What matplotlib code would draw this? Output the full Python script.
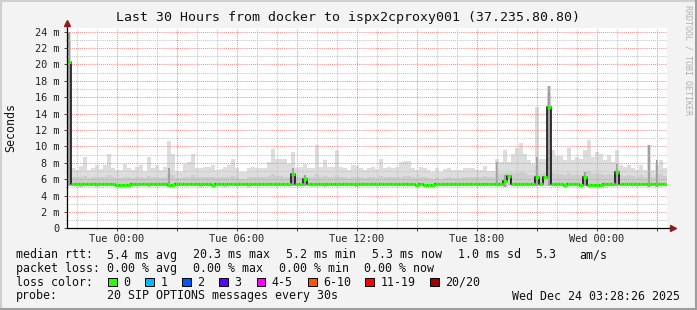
import matplotlib
matplotlib.use("Agg")
import matplotlib.pyplot as plt
import numpy as np
from matplotlib.lines import Line2D
from matplotlib.patches import Rectangle

plt.rcParams["font.family"] = ["DejaVu Sans Mono", "DejaVu Sans"]

W, H = 697, 310
BIN_H = 0.2  # hours per smoke column (12 min)

# --- data (ms), one value per 12-minute column starting Mon 21:30 ---
smoke_hi = [
    24.0,
    7.3, 7.1, 7.6, 8.7, 7.1, 7.3, 7.7, 7.2, 7.7, 9.1,
    7.3, 7.1, 7.1, 7.8, 7.3, 7.1, 7.5, 7.7, 7.0, 8.7,
    7.3, 7.7, 7.1, 7.5, 10.6, 9.1, 7.0, 6.9, 7.8, 8.1,
    9.1, 7.3, 7.3, 7.5, 7.5, 7.7, 7.1, 7.2, 7.5, 7.7,
    8.5, 7.3, 6.9, 6.9, 7.3, 7.5, 7.3, 7.4, 7.3, 8.1,
    9.7, 8.5, 8.5, 8.4, 7.8, 9.3, 7.3, 7.5, 7.9, 7.3,
    7.3, 10.2, 7.5, 8.3, 7.5, 7.5, 9.5, 7.5, 7.3, 7.1,
    7.7, 7.6, 7.3, 7.1, 7.4, 7.5, 7.2, 8.5, 7.3, 7.5,
    7.3, 7.5, 8.1, 8.2, 8.2, 7.3, 7.1, 7.5, 7.3, 7.1,
    6.9, 7.3, 6.9, 7.2, 7.3, 7.1, 7.1, 7.1, 7.4, 7.3,
    7.3, 7.1, 7.1, 7.6, 7.0, 7.0, 8.4, 8.1, 9.5, 8.1,
    9.1, 9.8, 10.4, 9.1, 8.3, 7.9, 14.8, 8.4, 8.5, 17.4,
    9.5, 8.8, 8.8, 8.3, 9.8, 8.3, 8.7, 8.5, 9.5, 10.8,
    8.7, 9.3, 9.1, 8.3, 8.9, 8.1, 9.5, 7.7, 7.5, 7.7,
    7.3, 7.1, 7.7, 7.1, 10.2, 7.1, 7.7, 8.3, 7.4,
]
smoke_mid = [
    23.0,
    6.2, 6.3, 6.2, 6.4, 6.1, 6.2, 6.3, 6.2, 6.2, 6.5,
    6.2, 6.1, 6.1, 6.3, 6.2, 6.1, 6.2, 6.3, 6.1, 6.4,
    6.2, 6.3, 6.1, 6.2, 6.8, 6.5, 6.1, 6.1, 6.3, 6.3,
    6.5, 6.2, 6.2, 6.3, 6.2, 6.3, 6.1, 6.2, 6.2, 6.3,
    6.4, 6.2, 6.0, 6.0, 6.2, 6.2, 6.2, 6.2, 6.2, 6.4,
    6.6, 6.4, 6.4, 6.3, 6.3, 6.8, 6.2, 6.3, 6.4, 6.2,
    6.2, 6.6, 6.2, 6.4, 6.2, 6.3, 6.5, 6.2, 6.2, 6.1,
    6.3, 6.3, 6.2, 6.1, 6.2, 6.2, 6.1, 6.4, 6.2, 6.2,
    6.2, 6.2, 6.3, 6.4, 6.4, 6.2, 6.1, 6.2, 6.2, 6.1,
    6.0, 6.2, 6.0, 6.1, 6.2, 6.1, 6.1, 6.1, 6.2, 6.3,
    6.3, 6.2, 6.3, 6.4, 6.3, 6.3, 6.7, 6.6, 6.8, 6.8,
    6.7, 6.8, 6.9, 6.7, 6.5, 6.5, 7.6, 6.6, 6.8, 16.5,
    6.7, 6.6, 6.6, 6.5, 6.8, 6.5, 6.6, 6.5, 6.9, 7.0,
    6.6, 6.7, 6.6, 6.5, 6.6, 6.5, 7.2, 6.5, 6.4, 6.5,
    6.4, 6.3, 6.5, 6.3, 6.9, 6.3, 6.6, 6.6, 6.4,
]
smoke_lo = [
    5.2,
    5.1, 5.1, 5.0, 5.1, 5.1, 5.1, 5.0, 5.1, 5.1, 5.1,
    5.1, 5.0, 5.0, 5.0, 5.0, 5.1, 5.1, 5.1, 5.1, 5.0,
    5.1, 5.1, 5.1, 5.1, 5.0, 5.0, 5.1, 5.1, 5.1, 5.1,
    5.1, 5.1, 5.0, 5.1, 5.1, 5.1, 5.1, 5.1, 5.0, 5.1,
    5.1, 5.1, 5.1, 5.1, 5.0, 5.1, 5.1, 5.1, 5.1, 5.1,
    5.1, 5.1, 5.1, 5.1, 5.1, 5.1, 5.1, 5.1, 5.1, 5.1,
    5.1, 5.1, 5.1, 5.0, 5.1, 5.1, 5.1, 5.1, 5.1, 5.1,
    5.1, 5.0, 5.1, 5.1, 5.1, 5.1, 5.1, 5.1, 5.1, 5.1,
    5.1, 5.1, 5.1, 5.1, 5.1, 5.1, 5.0, 5.1, 5.0, 5.0,
    5.0, 5.1, 5.1, 5.1, 5.1, 5.1, 5.1, 5.1, 5.1, 5.1,
    5.1, 5.1, 5.1, 5.1, 5.1, 5.1, 5.1, 5.1, 5.0, 5.1,
    5.1, 5.1, 5.1, 5.1, 5.1, 5.1, 5.1, 5.1, 5.1, 5.1,
    5.1, 5.1, 5.1, 5.0, 5.1, 5.1, 5.1, 5.0, 5.1, 5.0,
    5.0, 5.0, 5.0, 5.1, 5.1, 5.1, 5.1, 5.1, 5.1, 5.1,
    5.1, 5.1, 5.1, 5.1, 5.0, 5.1, 5.0, 5.1, 5.1,
]
median = [
    20.3,
    5.4, 5.4, 5.4, 5.4, 5.4, 5.4, 5.4, 5.4, 5.4, 5.4,
    5.4, 5.3, 5.3, 5.3, 5.3, 5.4, 5.4, 5.4, 5.4, 5.4,
    5.4, 5.4, 5.4, 5.4, 5.3, 5.3, 5.4, 5.4, 5.4, 5.4,
    5.4, 5.4, 5.4, 5.4, 5.4, 5.3, 5.4, 5.4, 5.4, 5.4,
    5.4, 5.4, 5.4, 5.4, 5.4, 5.4, 5.4, 5.4, 5.4, 5.4,
    5.4, 5.4, 5.4, 5.4, 5.4, 6.6, 5.4, 5.4, 6.0, 5.4,
    5.4, 5.4, 5.4, 5.4, 5.4, 5.4, 5.4, 5.4, 5.4, 5.4,
    5.4, 5.4, 5.4, 5.4, 5.4, 5.4, 5.4, 5.4, 5.4, 5.4,
    5.4, 5.4, 5.4, 5.4, 5.4, 5.4, 5.3, 5.4, 5.3, 5.3,
    5.3, 5.4, 5.4, 5.4, 5.4, 5.4, 5.4, 5.4, 5.4, 5.4,
    5.4, 5.4, 5.4, 5.4, 5.4, 5.4, 5.4, 5.4, 5.8, 6.4,
    5.4, 5.4, 5.4, 5.4, 5.4, 5.4, 6.2, 5.4, 6.2, 14.8,
    5.4, 5.4, 5.4, 5.3, 5.4, 5.4, 5.4, 5.3, 6.3, 5.3,
    5.3, 5.3, 5.3, 5.4, 5.4, 5.4, 6.9, 5.4, 5.4, 5.4,
    5.4, 5.4, 5.4, 5.4, 5.4, 5.4, 5.4, 5.4, 5.4,
]
# narrow darker columns where most pings were slow
dark_bins = [0, 25, 56, 59, 107, 109, 117, 120, 129, 137, 145, 147]
dark_top = [24.0, 7.3, 7.3, 6.5, 8.1, 6.5, 8.7, 17.4, 6.9, 7.9, 10.2, 8.3]

tick_hours = [2.5, 8.5, 14.5, 20.5, 26.5]
tick_labels = ["Tue 00:00", "Tue 06:00", "Tue 12:00", "Tue 18:00", "Wed 00:00"]

title = "Last 30 Hours from docker to ispx2cproxy001 (37.235.80.80)"
rtt_parts = [("median rtt:", 16), ("5.4 ms avg", 107), ("20.3 ms max", 193),
             ("5.2 ms min", 286), ("5.3 ms now", 371.5), ("1.0 ms sd", 458),
             ("5.3", 535.5), ("am/s", 579)]
loss_parts = [("packet loss:", 16), ("0.00 % avg", 107), ("0.00 % max", 193),
              ("0.00 % min", 279), ("0.00 % now", 364.5)]
loss_labels = ["0", "1", "2", "3", "4-5", "6-10", "11-19", "20/20"]
loss_colors = ["#26ff00", "#00b8ff", "#0059ff", "#5e00ff", "#ff00ff",
               "#ff5500", "#ff0000", "#a10000"]
loss_box_x = [108, 145, 182, 219, 256.5, 308, 365, 430]
probe_text = "20 SIP OPTIONS messages every 30s"
stamp = "Wed Dec 24 03:28:26 2025"

BACK = "#f3f3f3"
X0, X1, YB, YT = 66.7, 666.7, 228.3, 28.3

fig = plt.figure(figsize=(W / 100, H / 100), dpi=100, facecolor=BACK)
ax = fig.add_axes([X0 / W, 1 - YB / H, (X1 - X0) / W, (YB - YT) / H])
ax.set_facecolor("white")

hi = np.array(smoke_hi)
mid = np.array(smoke_mid)
lo = np.array(smoke_lo)
med = np.array(median)
edges = np.arange(len(hi)) * BIN_H
xe = np.append(edges, edges[-1] + BIN_H)

def ext(a):
    return np.append(a, a[-1])

ax.fill_between(xe, ext(lo), ext(hi), step="post", color="#dddddd", lw=0, zorder=1)
ax.fill_between(xe, ext(lo), ext(mid), step="post", color="#cdcdcd", lw=0, zorder=1.1)
db = np.array(dark_bins)
ax.bar(edges[db] + BIN_H * 0.3, np.array(dark_top) - lo[db], width=BIN_H * 0.45,
       bottom=lo[db], align="edge", color="#a0a0a0", lw=0, zorder=1.2)

# median: black step for transitions, green level segments on top
ax.step(xe, ext(med), where="post", color="black", lw=1.1, zorder=4)
ax.hlines(med, edges, edges + BIN_H, color="#26ff00", lw=2.3, zorder=5)

ax.set_xlim(0, 30)
ax.set_ylim(0, 24.4)

major_x = np.arange(2.5, 30, 3)
ax.set_xticks(major_x, [tick_labels[tick_hours.index(h)] if h in tick_hours else ""
                        for h in major_x])
ax.set_xticks(np.arange(0.5, 30, 1), minor=True)
yt = np.arange(0, 25, 2)
ax.set_yticks(yt, ["0" if v == 0 else f"{v} m" for v in yt])
ax.set_yticks(np.arange(1, 25, 2), minor=True)

ax.tick_params(which="major", length=2, width=0.7, color="#444444",
               labelsize=7.4, labelcolor="#222222")
ax.tick_params(axis="y", which="major", pad=3)
ax.tick_params(axis="x", which="major", pad=2)
ax.tick_params(which="minor", length=1, width=0.6, color="#666666")

ax.set_axisbelow(False)
ax.grid(which="major", color="#ff8c8c", linestyle=(0, (1, 1)), linewidth=0.75)
ax.grid(which="minor", color="#c4c4c4", linestyle=(0, (1, 1)), linewidth=0.75)

for s in ax.spines.values():
    s.set_visible(False)

# axes with arrows
ax.plot([0, 0], [0, 1.02], transform=ax.transAxes, color="black", lw=0.9,
        clip_on=False, zorder=6)
ax.plot([0, 1.008], [0, 0], transform=ax.transAxes, color="black", lw=0.9,
        clip_on=False, zorder=6)
ax.plot([0], [1.028], marker="^", ms=4.2, color="#8f1d1d", transform=ax.transAxes,
        clip_on=False, zorder=7)
ax.plot([1.01], [0], marker=">", ms=4.2, color="#8f1d1d", transform=ax.transAxes,
        clip_on=False, zorder=7)

def ftxt(x, y, s, **kw):
    kw.setdefault("fontsize", 8.4)
    kw.setdefault("va", "center")
    kw.setdefault("color", "#111111")
    fig.text(x / W, 1 - y / H, s, **kw)

ftxt(W / 2, 18, title, fontsize=9.5, ha="center")
ftxt(11, 128, "Seconds", rotation=90, ha="center")
ftxt(688, 60, "RRDTOOL / TOBI OETIKER", rotation=-90, ha="center",
     fontsize=6, color="#b0b0b0")

for s, x in rtt_parts:
    ftxt(x, 255, s)
for s, x in loss_parts:
    ftxt(x, 268.5, s)
ftxt(16, 282, "loss color:")
for lab, col, bx in zip(loss_labels, loss_colors, loss_box_x):
    fig.add_artist(Rectangle((bx / W, 1 - 286.3 / H), 8.5 / W, 8.5 / H,
                             transform=fig.transFigure, facecolor=col,
                             edgecolor="black", lw=0.7))
    ftxt(bx + 15.3, 282, lab)
ftxt(16, 296, "probe:")
ftxt(107, 296, probe_text)
ftxt(680, 296, stamp, ha="right")

# 3d frame around the image
fig.add_artist(Line2D([0, 1], [1 - 0.5 / H] * 2, transform=fig.transFigure,
                      color="#cfcfcf", lw=1.5))
fig.add_artist(Line2D([0.5 / W] * 2, [0, 1], transform=fig.transFigure,
                      color="#cfcfcf", lw=1.5))
fig.add_artist(Line2D([0, 1], [1 / H] * 2, transform=fig.transFigure,
                      color="#9e9e9e", lw=1.5))
fig.add_artist(Line2D([1 - 1 / W] * 2, [0, 1], transform=fig.transFigure,
                      color="#9e9e9e", lw=1.5))

fig.savefig("out.png", dpi=100, facecolor=BACK)
